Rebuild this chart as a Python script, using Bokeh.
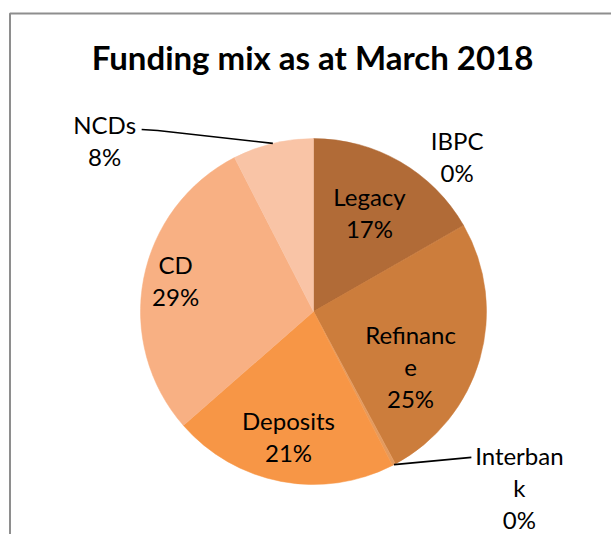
import math
from bokeh.plotting import figure
from bokeh.models import Range1d, ColumnDataSource
from bokeh.core.properties import value
from bokeh.embed import file_html
from bokeh.resources import INLINE

# ---- data ----
title = "Funding mix as at March 2018"
categories = ["Legacy", "IBPC", "Refinance", "Interbank", "Deposits", "CD", "NCDs"]
values = [16.7, 0.05, 25.4, 0.3, 21.1, 28.9, 7.55]

# ---- style / layout ----
colors = ["#B16B37", "#BF743A", "#CC7D3C", "#E49A5E", "#F79646", "#F8B083", "#F9C4A6"]
W, H = 611, 534
CX, CY, R = 313, 223, 173
# label placement: (radius factor, angle in degrees clockwise from 12 o'clock)
label_rf = [0.657, 1.22, 0.645, 1.565, 0.737, 0.817, 1.56]
label_deg = [29.5, 42.9, 119.6, 130.5, 191.3, 282.7, 309.3]
FONT = "Lato"

p = figure(width=W, height=H, x_range=Range1d(0, W), y_range=Range1d(0, H),
           output_backend="svg", toolbar_location=None, min_border=0)
p.axis.visible = False
p.grid.visible = False
p.outline_line_color = None
p.background_fill_color = "white"
p.border_fill_color = "white"

# chart area border (left + top)
p.line(x=[9.5, 9.5, 700], y=[-50, 521, 521], line_color="#8E8E8E", line_width=2)

total = sum(values)
starts, ends, mids = [], [], []
cum = 0.0
for v in values:
    f0 = cum / total
    cum += v
    f1 = cum / total
    starts.append(math.pi / 2 - 2 * math.pi * f1)
    ends.append(math.pi / 2 - 2 * math.pi * f0)
    mids.append(360 * (f0 + f1) / 2)

src = ColumnDataSource(dict(start=starts, end=ends, color=colors, cat=categories))
p.wedge(x=CX, y=CY, radius=R, start_angle="start", end_angle="end",
        direction="anticlock", fill_color="color", line_color="color",
        line_width=0.5, source=src)

# labels
lx, ly, lt = [], [], []
for cat, v, rf, deg in zip(categories, values, label_rf, label_deg):
    name = cat if len(cat) <= 8 else cat[:8] + "\n" + cat[8:]
    pct = round(v / total * 100)
    a = math.radians(deg)
    lx.append(CX + rf * R * math.sin(a))
    ly.append(CY + rf * R * math.cos(a))
    lt.append(f"{name}\n{pct}%")

p.text(x=lx, y=ly, text=lt, text_font=value(FONT), text_font_size="24px",
       text_align="center", text_baseline="middle", text_line_height=1.1,
       text_color="#000000")

# leader lines
def edge(deg):
    a = math.radians(deg)
    return CX + R * math.sin(a), CY + R * math.cos(a)

i_n = categories.index("NCDs")
ex, ey = edge(mids[i_n])
p.line(x=[lx[i_n] + 37, lx[i_n] + 53, ex], y=[ly[i_n] + 11, ly[i_n] + 10, ey],
       line_color="#000000", line_width=1.6)
i_i = categories.index("Interbank")
ex, ey = edge(mids[i_i])
p.line(x=[ex, lx[i_i] - 48], y=[ey, ly[i_i] + 30], line_color="#000000", line_width=1.6)

# title
p.text(x=[312], y=[534 - 56], text=[title], text_font=value(FONT),
       text_font_style="bold", text_font_size="33px", text_align="center",
       text_baseline="middle", text_color="#000000")

open("out.html", "w").write(file_html(p, INLINE))
